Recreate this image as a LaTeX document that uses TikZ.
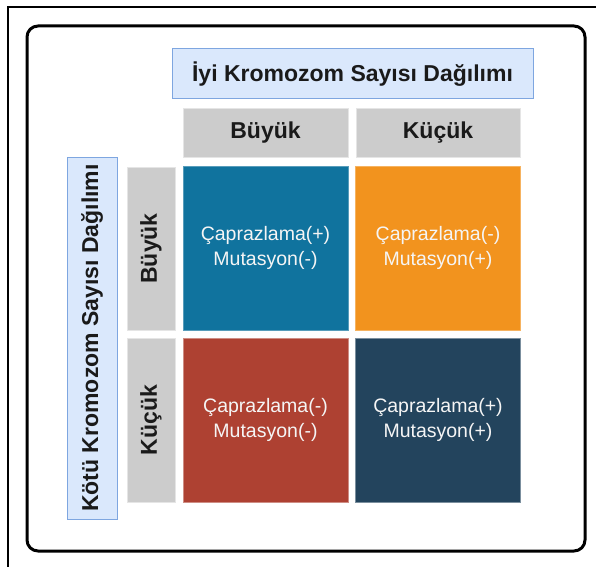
\documentclass[tikz,border=0pt]{standalone}
\usepackage{fontspec}
\setmainfont{Liberation Sans}
\definecolor{labelfill}{HTML}{DAE8FC}
\definecolor{labelline}{HTML}{7EA6E0}
\definecolor{headfill}{HTML}{CCCCCC}
\definecolor{cellblue}{HTML}{10739E}
\definecolor{cellorange}{HTML}{F2931E}
\definecolor{cellred}{HTML}{AE4132}
\definecolor{cellnavy}{HTML}{23445D}
\definecolor{darktext}{HTML}{1A1A1A}
\begin{document}
\begin{tikzpicture}[x=1pt,y=-1pt,
  boldtext/.style={font=\fontsize{23}{27}\selectfont\bfseries, text=darktext},
  axislabel/.style={boldtext, fill=labelfill, draw=labelline, line width=1pt, inner sep=0pt},
  headbox/.style={boldtext, fill=headfill, draw=white!90!black, line width=0.6pt, inner sep=0pt},
  cell/.style={minimum width=165pt, minimum height=164pt, inner sep=0pt, align=center,
    font=\fontsize{19.5}{25}\selectfont, text=white!96!black, line width=0.8pt}]
  % page
  \fill[white] (0,0) rectangle (596,567);
  \useasboundingbox (0,0) rectangle (596,567);
  % frames
  \coordinate (ftop) at (596,7);
  \coordinate (fcorner) at (8,7);
  \coordinate (fbottom) at (8,567);
  \draw[line width=1.6pt] (ftop) -- (fcorner) -- (fbottom);
  \draw[line width=3pt, rounded corners=11pt] (27,26) rectangle (585,551);
  % axis labels
  \node[axislabel, minimum width=361pt, minimum height=50pt] (good) at (352.5,74)
    {İyi Kromozom Sayısı Dağılımı};
  \node[axislabel, rotate=90, minimum width=362pt, minimum height=50pt] (bad) at (92,338)
    {Kötü Kromozom Sayısı Dağılımı};
  % column headers
  \node[headbox, minimum width=165pt, minimum height=49pt] (colbig) at (265.5,132.5) {Büyük};
  \node[headbox, minimum width=164pt, minimum height=49pt] (colsmall) at (438,132.5) {Küçük};
  % row headers
  \node[headbox, rotate=90, minimum width=163pt, minimum height=48pt] (rowbig) at (151,248.5) {Büyük};
  \node[headbox, rotate=90, minimum width=164pt, minimum height=48pt] (rowsmall) at (151,420) {Küçük};
  % cells
  \node[cell, fill=cellblue, draw=cellblue!70!white] (bb) at (265.5,248) {Çaprazlama(+)\\Mutasyon(-)};
  \node[cell, fill=cellorange, draw=cellorange!70!white] (bs) at (438,248) {Çaprazlama(-)\\Mutasyon(+)};
  \node[cell, fill=cellred, draw=cellred!60!white] (sb) at (265.5,420) {Çaprazlama(-)\\Mutasyon(-)};
  \node[cell, fill=cellnavy, draw=cellnavy!60!white] (ss) at (438,420) {Çaprazlama(+)\\Mutasyon(+)};
\end{tikzpicture}
\end{document}
